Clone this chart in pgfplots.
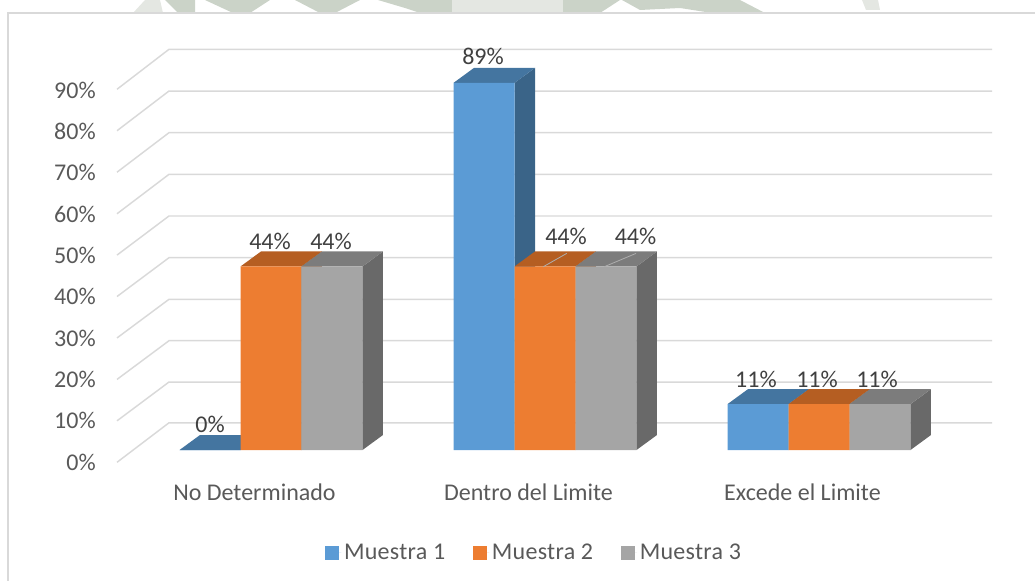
\documentclass[border=0pt]{standalone}
\usepackage{fontspec}
\setmainfont{Carlito}
\usepackage{pgfplots}
\pgfplotsset{compat=1.18}
\definecolor{bblue}{HTML}{5B9BD5}
\definecolor{borange}{HTML}{ED7D31}
\definecolor{bgray}{HTML}{A5A5A5}
\definecolor{tblue}{HTML}{4475A0}
\definecolor{torange}{HTML}{B55E22}
\definecolor{tgray}{HTML}{7C7C7C}
\definecolor{sblue}{HTML}{3A6488}
\definecolor{sorange}{HTML}{8F4A1B}
\definecolor{sgray}{HTML}{696969}
\definecolor{gridc}{HTML}{D9D9D9}
\definecolor{axtext}{HTML}{595959}
\definecolor{lbltext}{HTML}{404040}
\definecolor{wmg}{HTML}{CBD3C8}
\definecolor{wml}{HTML}{E4E7E2}
\newcommand{\gridl}[2]{\addplot[color=gridc,line width=1.1pt,forget plot] coordinates {(-0.56204,#1)(-0.37226,#2)(2.63139,#2)};}
% #1 centre, #2 shift, #3 value, #4 top colour, #5 side colour
\newcommand{\faces}[5]{%
  \pgfmathsetmacro{\xa}{#1+#2-0.1113}%
  \pgfmathsetmacro{\xb}{#1+#2+0.1113}%
  \pgfmathsetmacro{\xc}{#1+#2+0.1113+0.0748}%
  \pgfmathsetmacro{\xd}{#1+#2-0.1113+0.0748}%
  \pgfmathsetmacro{\yt}{#3+3.63}%
  \addplot[fill=#5,draw=none,forget plot] coordinates {(\xb,0)(\xc,3.63)(\xc,\yt)(\xb,#3)} -- cycle;
  \addplot[fill=#4,draw=none,forget plot] coordinates {(\xa,#3)(\xb,#3)(\xc,\yt)(\xd,\yt)} -- cycle;
}
\newcommand{\lbl}[3]{\node[text=lbltext,inner sep=0pt,anchor=center] at (axis cs:#1,#2) {#3};}
\begin{document}
\begin{tikzpicture}
\useasboundingbox (0,0) rectangle (776.25pt,-435.75pt);
\begin{scope}[x=0.75pt,y=-0.75pt]
\fill[wml] (133,13)--(145,0)--(160,0)--(163,13)--cycle;
\fill[wmg] (165,0)--(195,0)--(195,13)--(178,13)--cycle;
\fill[wmg] (205,0)--(270,0)--(250,13)--(233,13)--cycle;
\fill[wmg] (295,0)--(360,0)--(335,13)--(320,13)--cycle;
\fill[wmg] (378,0)--(452,0)--(452,13)--(420,13)--(405,8)--cycle;
\fill[wml] (452,0)--(563,0)--(563,13)--(452,13)--cycle;
\fill[wmg] (563,0)--(620,0)--(600,13)--(563,13)--cycle;
\fill[wmg] (622,0)--(740,0)--(765,13)--(712,13)--(680,8)--(640,10)--cycle;
\fill[wml] (862,0)--(878,0)--(880,10)--(866,10)--cycle;
\draw[gridc,line width=0.9pt] (8,581)--(8,13)--(1035,13);
\end{scope}
\begin{axis}[
  at={(75pt,-356.25pt)},anchor=south west,
  width=682.5pt,height=346.5pt,scale only axis,
  xmin=-0.62409,xmax=2.69708,ymin=-6.0533,ymax=105.811,
  clip=false,
  axis line style={draw=none},
  major tick length=0pt,
  tick style={draw=none},
  xtick={0,1,2},
  xticklabels={No Determinado,Dentro del Limite,Excede el Limite},
  ytick={0,10,20,30,40,50,60,70,80,90},
  yticklabels={0\%,10\%,20\%,30\%,40\%,50\%,60\%,70\%,80\%,90\%},
  x tick label style={font=\fontsize{18pt}{20pt}\selectfont,text=axtext,inner sep=0pt,anchor=center,xshift=-12.4pt,yshift=-12.75pt},
  y tick label style={font=\fontsize{18pt}{20pt}\selectfont,text=axtext,inner sep=0pt,anchor=east,xshift=-3pt,yshift=-9pt},
  legend columns=3,
  legend style={at={(0.4775,-0.1685)},anchor=center,draw=none,fill=none,
    font=\fontsize{18pt}{20pt}\selectfont\addfontfeature{LetterSpace=1.2},text=axtext,
    /tikz/every even column/.append style={column sep=19pt}},
  legend cell align=left,
  legend image code/.code={\fill[#1,draw=none] (0pt,-5.25pt) rectangle (10.5pt,5.25pt);\path (0pt,0pt)--(12pt,0pt);},
]
\gridl{87.34}{97.02}
\gridl{77.30}{86.92}
\gridl{67.26}{76.83}
\gridl{57.20}{66.75}
\gridl{47.19}{56.66}
\gridl{37.16}{46.56}
\gridl{27.13}{36.49}
\gridl{17.09}{26.46}
\gridl{7.06}{16.46}
\gridl{-2.98}{6.59}
\faces{0}{-0.2226}{0}{tblue}{sblue}
\faces{0}{0}{44.44}{torange}{sorange}
\faces{0}{0.2226}{44.44}{tgray}{sgray}
\faces{1}{-0.2226}{88.89}{tblue}{sblue}
\faces{1}{0}{44.44}{torange}{sorange}
\faces{1}{0.2226}{44.44}{tgray}{sgray}
\faces{2}{-0.2226}{11.11}{tblue}{sblue}
\faces{2}{0}{11.11}{torange}{sorange}
\faces{2}{0.2226}{11.11}{tgray}{sgray}
\addplot[ybar,bar width=0.2226,bar shift=-0.2226,fill=bblue,draw=none] coordinates {(0,0)(1,88.89)(2,11.11)};
\addlegendentry{Muestra 1}
\addplot[ybar,bar width=0.2226,bar shift=0,fill=borange,draw=none] coordinates {(0,44.44)(1,44.44)(2,11.11)};
\addlegendentry{Muestra 2}
\addplot[ybar,bar width=0.2226,bar shift=0.2226,fill=bgray,draw=none] coordinates {(0,44.44)(1,44.44)(2,11.11)};
\addlegendentry{Muestra 3}
\addplot[color=bgray!90!white,line width=0.6pt,forget plot] coordinates {(0.9938,44.38)(1.0792,47.6)};
\addplot[color=bgray!90!white,line width=0.6pt,forget plot] coordinates {(1.2164,44.38)(1.3321,47.6)};
\lbl{-0.2226}{6.3}{\fontsize{18pt}{20pt}\selectfont 0\%}
\lbl{-0.0036}{50.6}{\fontsize{18pt}{20pt}\selectfont 44\%}
\lbl{0.219}{50.6}{\fontsize{18pt}{20pt}\selectfont 44\%}
\lbl{0.7737}{95.2}{\fontsize{18pt}{20pt}\selectfont 89\%}
\lbl{1.0766}{51.8}{\fontsize{18pt}{20pt}\selectfont 44\%}
\lbl{1.3303}{51.8}{\fontsize{18pt}{20pt}\selectfont 44\%}
\lbl{1.770}{17.2}{\fontsize{18pt}{20pt}\selectfont 11\%}
\lbl{1.9927}{17.2}{\fontsize{18pt}{20pt}\selectfont 11\%}
\lbl{2.2117}{17.2}{\fontsize{18pt}{20pt}\selectfont 11\%}
\end{axis}
\end{tikzpicture}
\end{document}
